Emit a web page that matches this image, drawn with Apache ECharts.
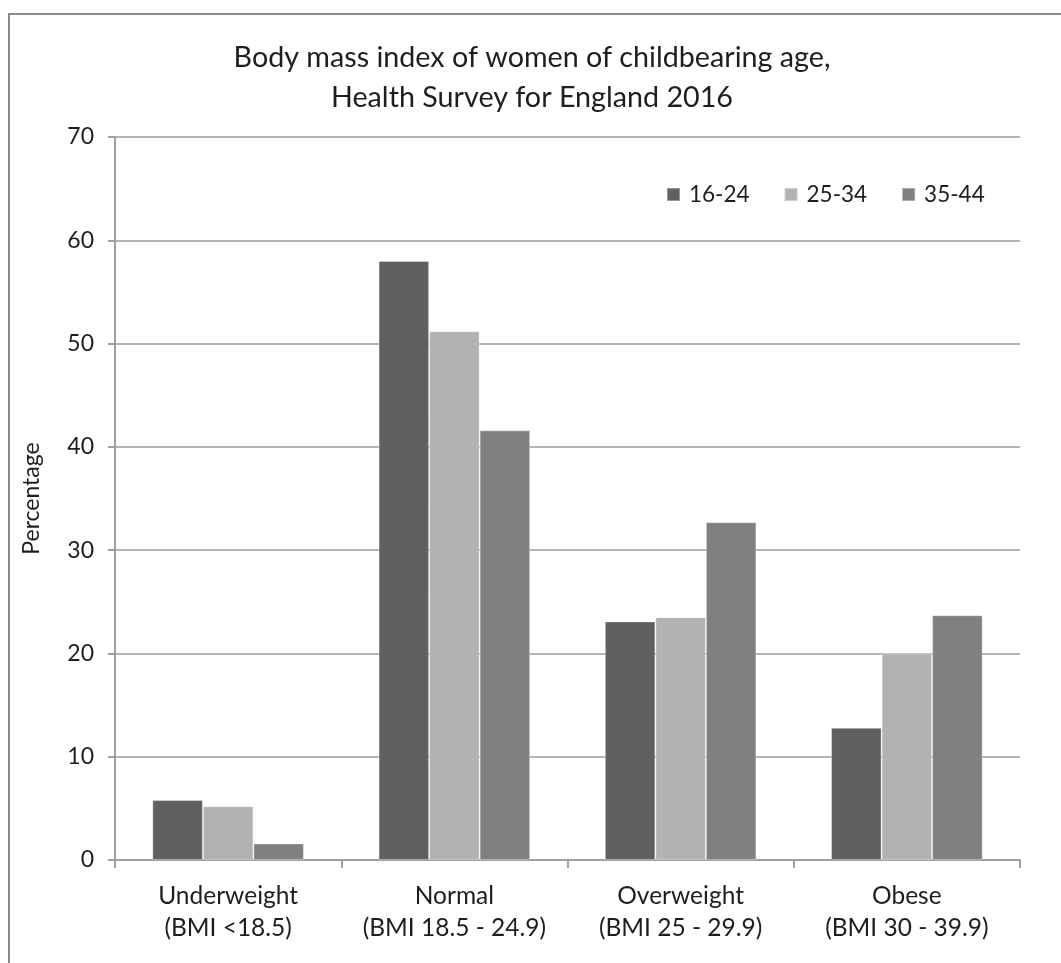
<!DOCTYPE html>
<html>
<head>
<meta charset="utf-8">
<script src="https://cdn.jsdelivr.net/npm/echarts@6/dist/echarts.min.js"></script>
<style>
  html, body { margin: 0; padding: 0; background: #fff; }
  #chart { width: 1061px; height: 963px; }
</style>
</head>
<body>
<div id="chart"></div>
<script>
// BMI groups shown along the x axis
const categories = [
  'Underweight\n(BMI <18.5)',
  'Normal\n(BMI 18.5 - 24.9)',
  'Overweight\n(BMI 25 - 29.9)',
  'Obese\n(BMI 30 - 39.9)'
];

// Percentage of women in each BMI group, by age band
const age16to24 = [5.8, 58.0, 23.1, 12.8];
const age25to34 = [5.2, 51.2, 23.5, 20.0];
const age35to44 = [1.6, 41.6, 32.7, 23.7];

const seriesNames = ['16-24', '25-34', '35-44'];
const seriesColors = ['#606060', '#b2b2b2', '#808080'];

const FONT = 'Lato';

const chart = echarts.init(document.getElementById('chart'), null, { renderer: 'canvas' });

function bar(name, data, color) {
  return {
    name: name,
    type: 'bar',
    data: data,
    barGap: '0%',
    barCategoryGap: '33%',
    itemStyle: { color: color, borderColor: 'rgba(255,255,255,0.35)', borderWidth: 1 }
  };
}

chart.setOption({
  animation: false,
  backgroundColor: '#fff',
  title: {
    text: 'Body mass index of women of childbearing age,\nHealth Survey for England 2016',
    left: 527,
    textAlign: 'center',
    top: 33,
    textStyle: {
      fontFamily: FONT,
      fontSize: 28.7,
      fontWeight: 'normal',
      color: '#1e1e1e',
      lineHeight: 40
    }
  },
  legend: {
    data: seriesNames,
    left: 661,
    top: 178,
    itemWidth: 13,
    itemHeight: 13,
    itemGap: 34,
    icon: 'rect',
    textStyle: { fontFamily: FONT, fontSize: 22.5, color: '#1e1e1e', padding: [0, 0, 0, 4] }
  },
  grid: { left: 115, right: 41, top: 137, bottom: 103, containLabel: false },
  xAxis: {
    type: 'category',
    data: categories,
    axisLine: { lineStyle: { color: '#a0a0a0', width: 2 } },
    axisTick: { show: true, interval: 0, length: 8, lineStyle: { color: '#a0a0a0', width: 2 } },
    axisLabel: {
      interval: 0,
      fontFamily: FONT,
      fontSize: 24.5,
      color: '#1e1e1e',
      lineHeight: 32,
      margin: 20
    }
  },
  yAxis: {
    type: 'value',
    min: 0,
    max: 70,
    interval: 10,
    name: 'Percentage',
    nameLocation: 'middle',
    nameGap: 72,
    nameRotate: 90,
    nameTextStyle: { fontFamily: FONT, fontSize: 23, color: '#1e1e1e' },
    axisLine: { show: true, lineStyle: { color: '#a0a0a0', width: 2 } },
    axisTick: { show: true, length: 7, lineStyle: { color: '#a0a0a0', width: 2 } },
    axisLabel: { fontFamily: FONT, fontSize: 23, color: '#1e1e1e', margin: 21 },
    splitLine: { lineStyle: { color: '#b4b4b4', width: 2 } }
  },
  series: [
    bar(seriesNames[0], age16to24, seriesColors[0]),
    bar(seriesNames[1], age25to34, seriesColors[1]),
    bar(seriesNames[2], age35to44, seriesColors[2])
  ],
  graphic: [
    {
      type: 'rect',
      silent: true,
      shape: { x: 9, y: 14, width: 1200, height: 1100 },
      style: { fill: 'none', stroke: '#8a8a8a', lineWidth: 2 }
    }
  ]
});
</script>
</body>
</html>
